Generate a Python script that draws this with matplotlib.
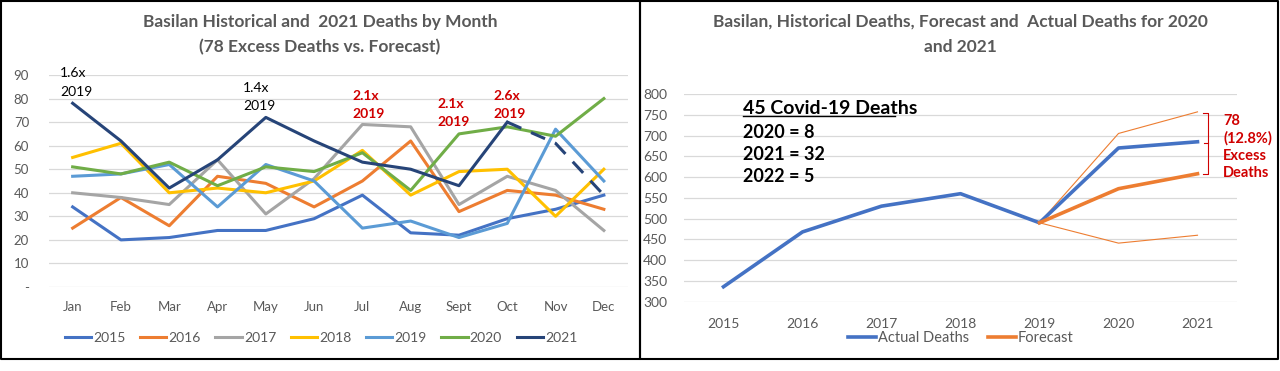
import numpy as np
import matplotlib
matplotlib.use("Agg")
import matplotlib.pyplot as plt
from matplotlib.lines import Line2D

plt.rcParams['font.family'] = ['Lato', 'DejaVu Sans']

# left chart data: deaths by month
months = ['Jan', 'Feb', 'Mar', 'Apr', 'May', 'Jun', 'Jul', 'Aug', 'Sept', 'Oct', 'Nov', 'Dec']
d2015 = [34, 20, 21, 24, 24, 29, 39, 23, 22, 29, 33, 39]
d2016 = [25, 38, 26, 47, 44, 34, 45, 62, 32, 41, 39, 33]
d2017 = [40, 38, 35, 54, 31, 46, 69, 68, 35, 47, 41, 24]
d2018 = [55, 61, 40, 42, 40, 45, 58, 39, 49, 50, 30, 50]
d2019 = [47, 48, 52, 34, 52, 45, 25, 28, 21, 27, 67, 45]
d2020 = [51, 48, 53, 43, 51, 49, 57, 41, 65, 68, 64, 80]
d2021 = [78, 62, 42, 54, 72, 62, 53, 50, 43, 70, 61, 39]
series_years = ['2015', '2016', '2017', '2018', '2019', '2020', '2021']
series_colors = ['#4472C4', '#ED7D31', '#A5A5A5', '#FFC000', '#5B9BD5', '#70AD47', '#264478']

# right chart data: yearly totals
years = ['2015', '2016', '2017', '2018', '2019', '2020', '2021']
actual = [336, 468, 530, 560, 490, 670, 685]
forecast = [490, 572, 608]
upper = [490, 705, 757]
lower = [490, 441, 460]

W, H = 1280, 371
fig = plt.figure(figsize=(12.8, 3.71), dpi=100)


def fx(px):
    return px / W


def fy(py):
    return (H - py) / H


grey = '#595959'
grid = '#D9D9D9'
red = '#D00000'

# ---- left chart ----
ax1 = fig.add_axes([fx(48.5), fy(287), fx(628) - fx(48.5), fy(75) - fy(287)])
x = np.arange(len(months))
data = [d2015, d2016, d2017, d2018, d2019, d2020, d2021]
handles = []
for yr, vals, c in zip(series_years, data, series_colors):
    if yr == '2021':
        h, = ax1.plot(x[:10], vals[:10], color=c, lw=2.2, zorder=3)
        ax1.plot(x[9:], vals[9:], color=c, lw=2.2, dashes=(5, 3.5), zorder=3)
    else:
        h, = ax1.plot(x, vals, color=c, lw=2.2, zorder=2)
    handles.append(h)

ax1.set_xlim(-0.5, 11.5)
ax1.set_ylim(0, 90)
ax1.set_yticks(range(0, 91, 10))
ax1.set_yticklabels(['-'] + [str(v) for v in range(10, 91, 10)])
ax1.set_xticks(x)
ax1.set_xticklabels(months)
for s in ax1.spines.values():
    s.set_visible(False)
ax1.grid(axis='y', color=grid, lw=0.9)
ax1.set_axisbelow(True)
ax1.tick_params(length=0, labelsize=9.5, colors=grey, labelcolor=grey)
ax1.tick_params(axis='y', pad=14)
ax1.tick_params(axis='x', pad=10)

fig.text(fx(320), fy(22), 'Basilan Historical and  2021 Deaths by Month', ha='center', va='center',
         fontsize=12.5, fontweight='bold', color=grey)
fig.text(fx(320), fy(47), '(78 Excess Deaths vs. Forecast)', ha='center', va='center',
         fontsize=12.5, fontweight='bold', color=grey)

notes = [(60, 73, '1.6x', 'black', 'normal'),
         (243, 88, '1.4x', 'black', 'normal'),
         (352, 96, '2.1x', red, 'bold'),
         (437, 104, '2.1x', red, 'bold'),
         (493, 96, '2.6x', red, 'bold')]
for px, py, t, c, w in notes:
    fig.text(fx(px), fy(py), t, ha='left', va='center', fontsize=10, color=c, fontweight=w)
    fig.text(fx(px), fy(py + 18.5), '2019', ha='left', va='center', fontsize=10, color=c, fontweight=w)

fig.legend(handles, series_years, loc='center', bbox_to_anchor=(fx(321), fy(338)), ncol=7,
           frameon=False, fontsize=10, handlelength=1.9, handletextpad=0.15, columnspacing=1.05,
           labelcolor=grey)

# ---- right chart ----
ax2 = fig.add_axes([fx(684), fy(301.7), fx(1237) - fx(684), fy(94) - fy(301.7)])
xr = np.arange(len(years))
la, = ax2.plot(xr, actual, color='#4472C4', lw=2.6, zorder=3)
lf, = ax2.plot(xr[4:], forecast, color='#ED7D31', lw=2.6, zorder=3)
ax2.plot(xr[4:], upper, color='#ED7D31', lw=0.8, zorder=2)
ax2.plot(xr[4:], lower, color='#ED7D31', lw=0.8, zorder=2)
ax2.set_xlim(-0.5, 6.5)
ax2.set_ylim(300, 800)
ax2.set_yticks(range(300, 801, 50))
ax2.set_xticks(xr)
ax2.set_xticklabels(years)
for s in ax2.spines.values():
    s.set_visible(False)
ax2.grid(axis='y', color=grid, lw=0.9)
ax2.set_axisbelow(True)
ax2.tick_params(length=0, labelsize=10, colors=grey, labelcolor=grey)
ax2.tick_params(axis='y', pad=12)
ax2.tick_params(axis='x', pad=12)

fig.text(fx(960), fy(22), 'Basilan, Historical Deaths, Forecast and  Actual Deaths for 2020', ha='center',
         va='center', fontsize=12.5, fontweight='bold', color=grey)
fig.text(fx(960), fy(47), 'and 2021', ha='center', va='center', fontsize=12.5, fontweight='bold', color=grey)

fig.text(fx(743), fy(108), '45 Covid-19 Deaths', ha='left', va='center', fontsize=14, fontweight='bold',
         color='black')
fig.add_artist(Line2D([fx(743), fx(895)], [fy(116), fy(116)], color='black', lw=1))
for i, t in enumerate(['2020 = 8', '2021 = 32', '2022 = 5']):
    fig.text(fx(743), fy(132 + i * 22.5), t, ha='left', va='center', fontsize=13, fontweight='bold',
             color='black')

# excess bracket
bx = 1208
fig.add_artist(Line2D([fx(bx - 5), fx(bx), fx(bx), fx(bx - 5)], [fy(113), fy(113), fy(174), fy(174)],
                      color=red, lw=0.8))
fig.add_artist(Line2D([fx(bx), fx(bx - 4)], [fy(143), fy(143)], color=red, lw=0.8))
for i, t in enumerate(['78', '(12.8%)', 'Excess', 'Deaths']):
    fig.text(fx(1223), fy(121 + i * 17.3), t, ha='left', va='center', fontsize=10.5, fontweight='bold',
             color=red)

fig.legend([la, lf], ['Actual Deaths', 'Forecast'], loc='center', bbox_to_anchor=(fx(961), fy(338)),
           ncol=2, frameon=False, fontsize=10.5, handlelength=1.9, handletextpad=0.15, columnspacing=1.3,
           labelcolor=grey)

# panel borders
for x0, x1 in [(1, 640), (640, 1278)]:
    fig.add_artist(Line2D([fx(x0), fx(x1), fx(x1), fx(x0), fx(x0)],
                          [fy(1), fy(1), fy(359), fy(359), fy(1)], color='black', lw=1.5))

fig.savefig('out.png', dpi=100)
